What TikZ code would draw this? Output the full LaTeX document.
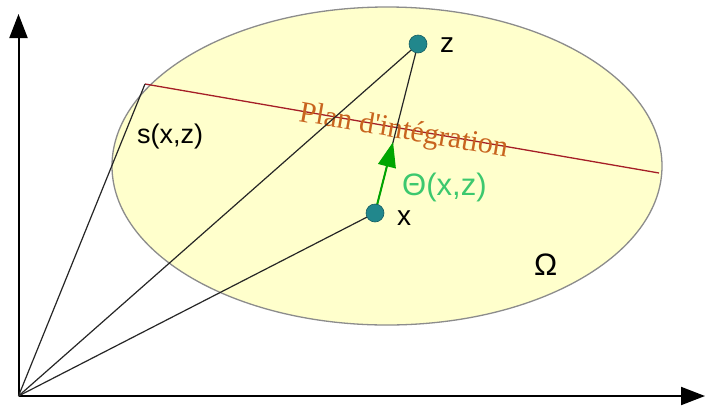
\documentclass[tikz,border=0pt]{standalone}
\usepackage{fontspec}
\setmainfont{Liberation Serif}
\setsansfont{Liberation Sans}
\usepackage{xcolor}
\usetikzlibrary{calc,arrows.meta}
\definecolor{domfill}{HTML}{FFFFCC}
\definecolor{domline}{HTML}{8C8C8C}
\definecolor{planred}{HTML}{A51E26}
\definecolor{plantxt}{HTML}{C8641E}
\definecolor{ptteal}{HTML}{21878C}
\definecolor{arrgreen}{HTML}{00A500}
\definecolor{thgreen}{HTML}{3CC86E}
\tikzset{
  axis/.style={-{Triangle[length=24pt,width=18pt]},line width=2pt},
  ray/.style={line width=1.2pt,black!85},
  pt/.style={circle,fill=ptteal,draw=ptteal!70!black,line width=0.6pt,minimum size=18pt,inner sep=0pt},
  lab/.style={font=\sffamily\fontsize{28}{28}\selectfont,inner sep=0pt,anchor=base west}
}

\begin{document}
\begin{tikzpicture}[x=1pt,y=-1pt]
\useasboundingbox (0,0) rectangle (706,413);
\fill[white] (0,0) rectangle (706,413);
% domaine
\draw[domline,fill=domfill,line width=1.3pt] (387,166) ellipse [x radius=275pt,y radius=159pt];
% axes
\coordinate (O) at (18.5,396);
\coordinate (yend) at (18.5,14);
\coordinate (xend) at (705,396);
\draw[axis] (O) -- (yend);
\draw[axis] (O) -- (xend);
% points
\coordinate (s) at (145,84);
\coordinate (e) at (659,173);
\coordinate (zc) at (418,44);
\coordinate (xc) at (375,213);
\coordinate (tip) at ($(xc)!0.42!(zc)$);
% plan d'integration
\draw[planred,line width=1.3pt] (s) -- (e);
\node[font=\rmfamily\fontsize{30}{30}\selectfont,text=plantxt,inner sep=0pt,anchor=base west,rotate=-9.8] (plan) at (298,121) {Plan d\textquotesingle intégration};
% rayons
\draw[ray] (O) -- (s);
\draw[ray] (O) -- (zc);
\draw[ray] (O) -- (xc);
\draw[ray] (xc) -- (zc);
\draw[-{Triangle[length=25pt,width=18pt]},arrgreen,line width=2pt] (xc) -- (tip);
\node[pt] (z) at (zc) {};
\node[pt] (x) at (xc) {};
% textes
\node[lab] (zl) at (440,52) {z};
\node[lab] (xl) at (397,225) {x};
\node[lab,font=\sffamily\fontsize{27}{27}\selectfont] (sl) at (137,143) {s(x,z)};
\node[lab,text=thgreen,font=\sffamily\fontsize{31}{31}\selectfont] (thl) at (402,195) {Θ(x,z)};
\node[lab,font=\sffamily\fontsize{31}{31}\selectfont] (om) at (534,275) {Ω};
\end{tikzpicture}
\end{document}
